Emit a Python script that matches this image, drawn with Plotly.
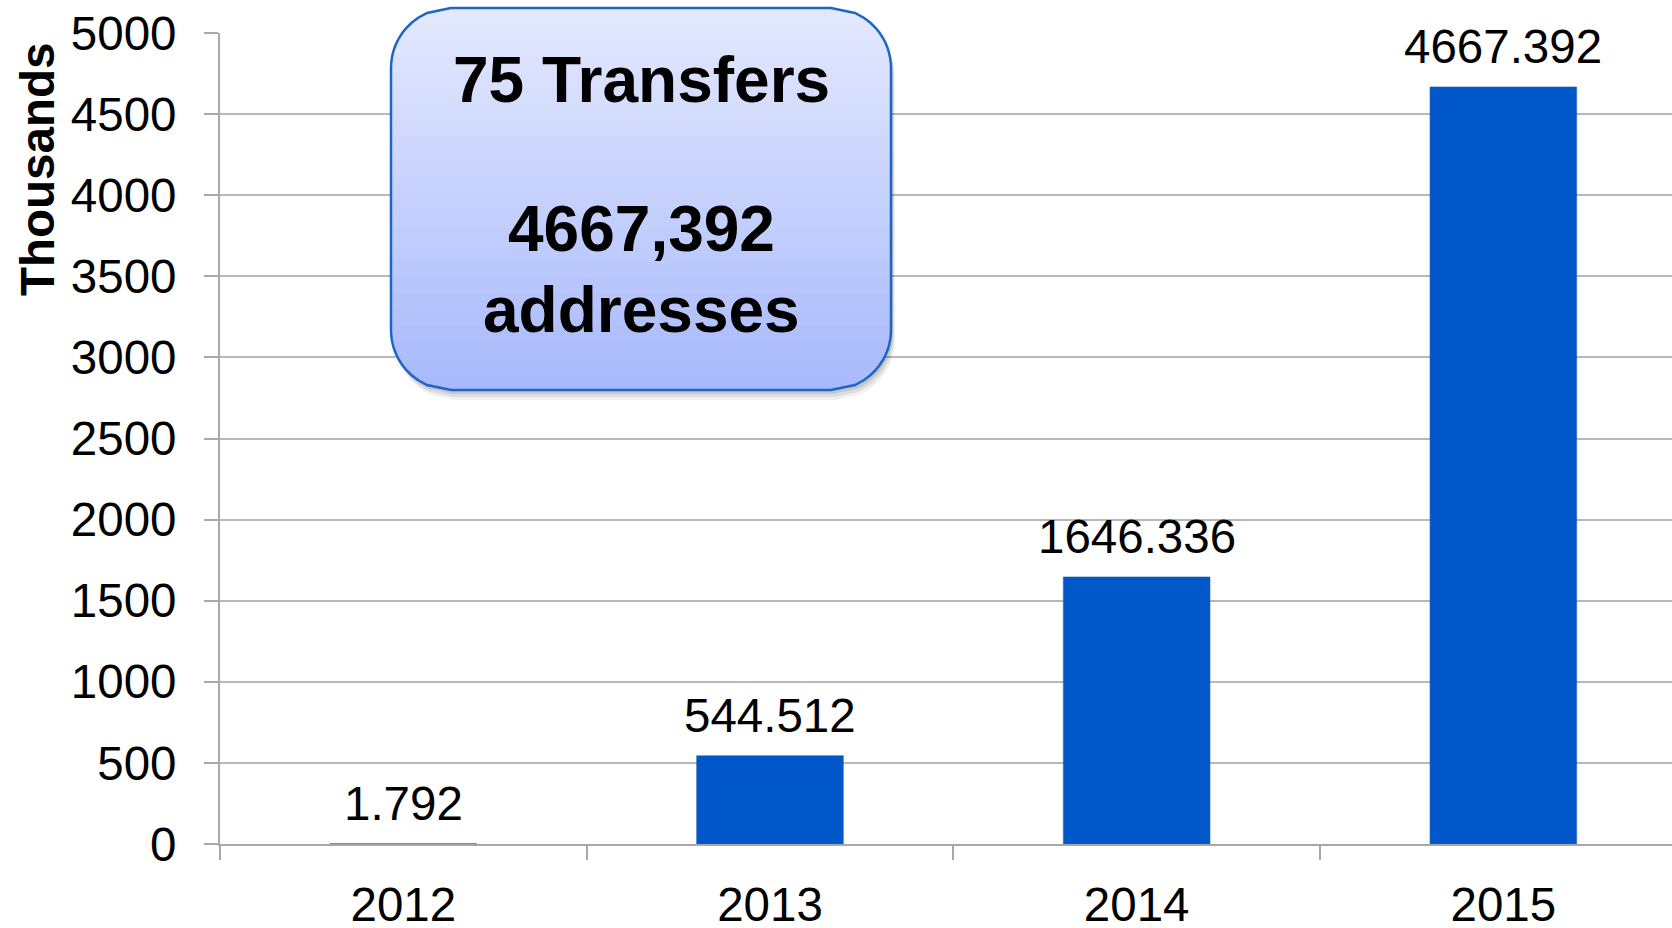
import math
import plotly.graph_objects as go

# ---- data ----
years = ["2012", "2013", "2014", "2015"]
addresses_thousands = [1.792, 544.512, 1646.336, 4667.392]
y_ticks = [0, 500, 1000, 1500, 2000, 2500, 3000, 3500, 4000, 4500, 5000]
box_lines = ["75 Transfers", "4667,392", "addresses"]
y_title = "Thousands"

# ---- layout geometry (page pixels; body margin removed) ----
W, H = 1672, 928
L_PG, R_PG, T_PG, B_PG = 220, 1672, 33, 844   # plot area
FONT = "Liberation Sans, Arial, Helvetica, sans-serif"
FS = 47.5


def px2x(px):
    return (px - L_PG) / (R_PG - L_PG)


def py2y(py):
    return (B_PG - py) / (B_PG - T_PG)


fig = go.Figure()
fig.add_trace(go.Bar(
    x=years, y=addresses_thousands, width=0.4,
    marker=dict(color="#0057C9", line=dict(color="#2E62B8", width=0.6)),
    showlegend=False, hoverinfo="x+y",
))

annotations = []
# data labels (category index positions)
for i, v in enumerate(addresses_thousands):
    annotations.append(dict(
        x=i, y=v, xref="x", yref="y", text=f"{v:.3f}", showarrow=False,
        xanchor="center", yanchor="middle", yshift=40,
        font=dict(family=FONT, size=FS, color="black"),
    ))

# y-axis title as rotated annotation near top
annotations.append(dict(
    x=px2x(37), y=py2y(170), xref="paper", yref="paper", text=f"<b>{y_title}</b>",
    textangle=-90, showarrow=False, xanchor="center", yanchor="middle",
    font=dict(family=FONT, size=FS, color="black"),
))

# ---- rounded gradient box ----
bx0, bx1, by0, by1, rad = 391, 891, 8, 390, 60


def inset(py):
    if py < by0 + rad:
        d = by0 + rad - py
    elif py > by1 - rad:
        d = py - (by1 - rad)
    else:
        return 0.0
    return rad - math.sqrt(max(rad * rad - d * d, 0.0))


def rr_path(ox=0.0, oy=0.0, n=12):
    pts = []
    ys = [by0 + i * rad / n for i in range(n + 1)] + [by1 - rad + i * rad / n for i in range(n + 1)]
    for py in ys:
        pts.append((bx0 + inset(py) + ox, py + oy))
    for py in reversed(ys):
        pts.append((bx1 - inset(py) + ox, py + oy))
    return "M " + " L ".join(f"{px2x(a):.5f},{py2y(b):.5f}" for a, b in pts) + " Z"


shapes = []
for (ox, oy, a) in [(4, 10, 0.06), (3, 7, 0.08), (2, 4, 0.10)]:
    shapes.append(dict(type="path", xref="paper", yref="paper", path=rr_path(ox, oy),
                       fillcolor=f"rgba(0,0,0,{a})", line=dict(width=0), layer="above"))

top_c = (228, 233, 253)
bot_c = (168, 185, 251)
N = 48
hstep = (by1 - by0) / N
for i in range(N):
    ya = by0 + i * hstep
    yb = min(ya + hstep + 0.8, by1)
    ys = [ya + (yb - ya) * k / 4 for k in range(5)]
    pts = [(bx0 + inset(p), p) for p in ys] + [(bx1 - inset(p), p) for p in reversed(ys)]
    t = (i + 0.5) / N
    c = tuple(round(top_c[j] + (bot_c[j] - top_c[j]) * t) for j in range(3))
    path = "M " + " L ".join(f"{px2x(a):.5f},{py2y(b):.5f}" for a, b in pts) + " Z"
    shapes.append(dict(type="path", xref="paper", yref="paper", path=path,
                       fillcolor=f"rgb{c}", line=dict(width=0), layer="above"))

shapes.append(dict(type="path", xref="paper", yref="paper", path=rr_path(),
                   fillcolor="rgba(0,0,0,0)", line=dict(color="#1C66C8", width=2.5), layer="above"))

box_cx = (bx0 + bx1) / 2
for txt, pyc in zip(box_lines, [80, 229, 310]):
    annotations.append(dict(
        x=px2x(box_cx), y=py2y(pyc), xref="paper", yref="paper", text=f"<b>{txt}</b>",
        showarrow=False, xanchor="center", yanchor="middle",
        font=dict(family=FONT, size=64, color="black"),
    ))

fig.update_layout(
    template="none",
    width=W, height=H,
    margin=dict(l=L_PG, r=W - R_PG, t=T_PG, b=H - B_PG, pad=0, autoexpand=False),
    paper_bgcolor="white", plot_bgcolor="white",
    font=dict(family=FONT, size=FS, color="black"),
    xaxis=dict(
        type="category", range=[-0.5, 3.46], tickson="boundaries", automargin=False,
        ticks="outside", ticklen=14, tickwidth=2, tickcolor="#A8A8A8",
        showline=True, linecolor="#A8A8A8", linewidth=2,
        showgrid=False, zeroline=False,
        tickfont=dict(family=FONT, size=FS, color="black"),
        ticklabelstandoff=18,
    ),
    yaxis=dict(
        range=[0, 5000], tickvals=y_ticks, ticks="outside", ticklen=14, tickwidth=2,
        automargin=False,
        tickcolor="#A8A8A8", showline=True, linecolor="#A8A8A8", linewidth=2,
        showgrid=True, gridcolor="#B8B8B8", gridwidth=2, zeroline=False,
        tickfont=dict(family=FONT, size=FS, color="black"),
        ticklabelstandoff=18,
    ),
    shapes=shapes,
    annotations=annotations,
    showlegend=False,
)

fig.write_html("out.html",
               config={"displayModeBar": False},
               post_script="document.body.style.margin='0px';document.body.style.overflow='hidden';")
